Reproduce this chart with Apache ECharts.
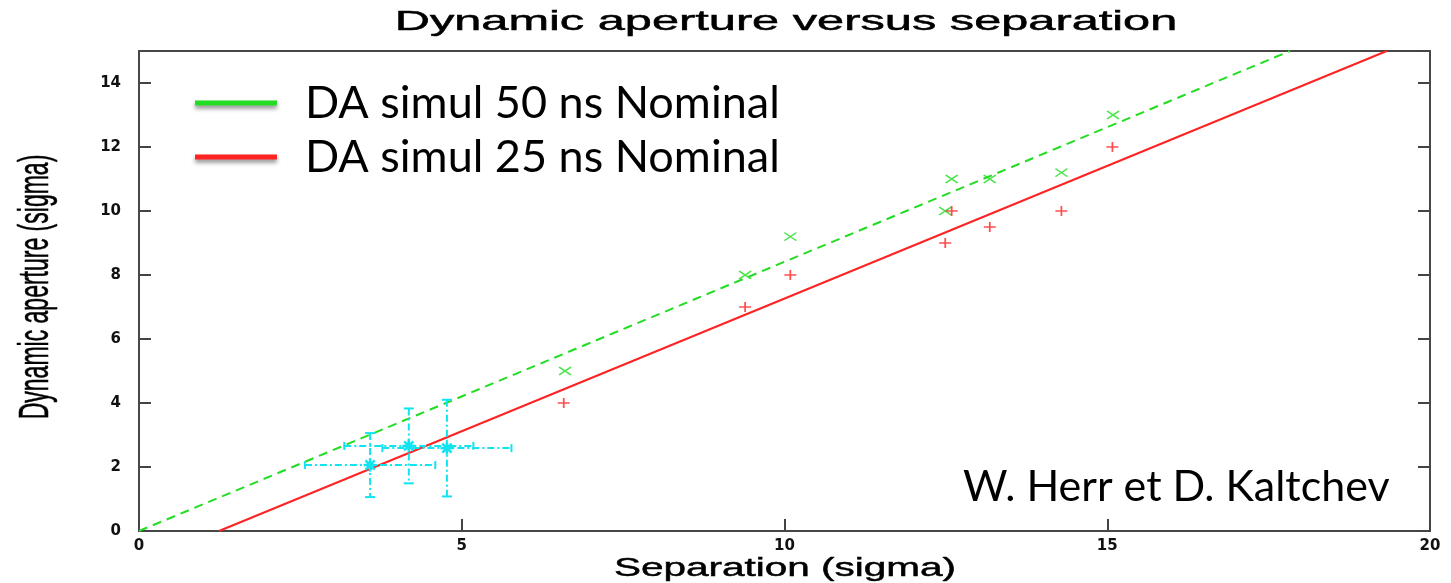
<!DOCTYPE html>
<html>
<head>
<meta charset="utf-8">
<script src="https://cdn.jsdelivr.net/npm/echarts@6/dist/echarts.min.js"></script>
<style>
  html, body { margin: 0; padding: 0; background: #fff; }
  #chart { width: 1451px; height: 583px; }
</style>
</head>
<body>
<div id="chart"></div>
<script>
// Axis ticks
const xTicks = [0, 5, 10, 15, 20];
const yTicks = [0, 2, 4, 6, 8, 10, 12, 14];

// Simulated dynamic aperture [separation, DA] (sigma)
const da50ns = [[6.6, 5], [9.39, 8], [10.09, 9.2], [12.49, 10], [12.59, 11], [13.18, 11], [14.29, 11.2], [15.09, 13]];
const da25ns = [[6.58, 4], [9.39, 7], [10.09, 8], [12.49, 9], [12.59, 10], [13.18, 9.5], [14.29, 10], [15.08, 12]];

// Linear fits through the simulations (end points)
const fit50ns = [[0, 0], [17.83, 15]];
const fit25ns = [[1.24, 0], [19.33, 15]];

// Measurements with error bars
const measSep = [3.58, 4.18, 4.77];
const measDA = [2.06, 2.66, 2.59];
const measSepErr = [1.01, 1.0, 1.0];
const measDAErr = [1.0, 1.17, 1.51];

const GREEN = '#22dd22';
const RED = '#ff2222';
const CYAN = '#11e4f0';
const NAME50 = 'DA simul 50 ns Nominal';
const NAME25 = 'DA simul 25 ns Nominal';

const measData = measSep.map((x, i) => [x, measDA[i], measSepErr[i], measDAErr[i]]);

function renderErrorBar(params, api) {
  const x = api.value(0), y = api.value(1), dx = api.value(2), dy = api.value(3);
  const c = api.coord([x, y]);
  const L = api.coord([x - dx, y]);
  const R = api.coord([x + dx, y]);
  const T = api.coord([x, y + dy]);
  const B = api.coord([x, y - dy]);
  const dash = { stroke: CYAN, lineWidth: 2, lineDash: [7, 3, 2, 3] };
  const solid = { stroke: CYAN, lineWidth: 2 };
  const cw = 5, ch = 4;
  const children = [
    { type: 'line', shape: { x1: L[0], y1: L[1], x2: R[0], y2: R[1] }, style: dash },
    { type: 'line', shape: { x1: T[0], y1: T[1], x2: B[0], y2: B[1] }, style: dash },
    { type: 'line', shape: { x1: L[0], y1: L[1] - ch, x2: L[0], y2: L[1] + ch }, style: solid },
    { type: 'line', shape: { x1: R[0], y1: R[1] - ch, x2: R[0], y2: R[1] + ch }, style: solid },
    { type: 'line', shape: { x1: T[0] - cw, y1: T[1], x2: T[0] + cw, y2: T[1] }, style: solid },
    { type: 'line', shape: { x1: B[0] - cw, y1: B[1], x2: B[0] + cw, y2: B[1] }, style: solid },
    { type: 'circle', shape: { cx: c[0], cy: c[1], r: 3.5 }, style: { fill: CYAN } }
  ];
  const r = 6.5;
  for (let k = 0; k < 4; k++) {
    const a = k * Math.PI / 4;
    children.push({
      type: 'line',
      shape: { x1: c[0] - r * Math.cos(a), y1: c[1] - r * Math.sin(a), x2: c[0] + r * Math.cos(a), y2: c[1] + r * Math.sin(a) },
      style: { stroke: CYAN, lineWidth: 2.5 }
    });
  }
  return { type: 'group', children };
}

const chart = echarts.init(document.getElementById('chart'));

const tickFmt = list => v => (list.includes(v) ? String(v) : '');

chart.setOption({
  animation: false,
  backgroundColor: '#ffffff',
  grid: {
    left: 139, right: 21, top: 51, bottom: 52,
    show: true, borderColor: '#474747', borderWidth: 2, backgroundColor: 'transparent'
  },
  legend: {
    orient: 'vertical',
    left: 195, top: 78, padding: 0,
    itemWidth: 82, itemHeight: 5, itemGap: 4,
    icon: 'rect',
    data: [
      { name: NAME50, itemStyle: { color: GREEN } },
      { name: NAME25, itemStyle: { color: RED } }
    ],
    itemStyle: { shadowBlur: 4, shadowColor: 'rgba(0,0,0,0.45)', shadowOffsetY: 3, borderWidth: 0 },
    textStyle: {
      fontFamily: 'Lato', fontSize: 45, color: '#000', lineHeight: 50,
      padding: [0, 0, 0, 23]
    },
    selectedMode: false
  },
  xAxis: {
    type: 'value', min: 0, max: 20, interval: 5,
    axisLine: { show: false },
    axisTick: { show: true, inside: true, length: 12, lineStyle: { color: '#444', width: 2 } },
    axisLabel: {
      formatter: tickFmt(xTicks), margin: 8,
      fontFamily: 'DejaVu Sans', fontWeight: 'bold', fontSize: 15, color: '#111',
      showMinLabel: true, showMaxLabel: true
    },
    splitLine: { show: false }
  },
  yAxis: [
    {
      type: 'value', min: 0, max: 15, interval: 2,
      axisLine: { show: false },
      axisTick: { show: true, inside: true, length: 12, lineStyle: { color: '#444', width: 2 } },
      axisLabel: {
        formatter: tickFmt(yTicks), margin: 18,
        fontFamily: 'DejaVu Sans', fontWeight: 'bold', fontSize: 15, color: '#111',
        showMaxLabel: false
      },
      splitLine: { show: false }
    },
    {
      type: 'value', min: 0, max: 15, interval: 2, position: 'right',
      axisLine: { show: false },
      axisTick: { show: true, inside: true, length: 12, lineStyle: { color: '#444', width: 2 } },
      axisLabel: { show: false },
      splitLine: { show: false }
    }
  ],
  graphic: [
    {
      type: 'text', x: 786, y: 22, scaleX: 1.74, silent: true,
      style: {
        text: 'Dynamic aperture versus separation',
        font: '28px "Liberation Sans", Arial, sans-serif',
        fill: '#000', stroke: '#000', lineWidth: 0.5,
        textAlign: 'center', textVerticalAlign: 'middle'
      }
    },
    {
      type: 'text', x: 785, y: 569, scaleX: 1.62, silent: true,
      style: {
        text: 'Separation (sigma)',
        font: '25px "Liberation Sans", Arial, sans-serif',
        fill: '#000', stroke: '#000', lineWidth: 0.45,
        textAlign: 'center', textVerticalAlign: 'middle'
      }
    },
    {
      type: 'text', x: 36, y: 287, rotation: Math.PI / 2, scaleY: 1.85, silent: true,
      style: {
        text: 'Dynamic aperture (sigma)',
        font: '23px "Liberation Sans", Arial, sans-serif',
        fill: '#000', stroke: '#000', lineWidth: 0.3,
        textAlign: 'center', textVerticalAlign: 'middle'
      }
    },
    {
      type: 'text', x: 963, y: 487, silent: true,
      style: {
        text: 'W. Herr et D. Kaltchev',
        font: '43px Lato, sans-serif',
        fill: '#000', textAlign: 'left', textVerticalAlign: 'middle'
      }
    }
  ],
  series: [
    {
      name: NAME50, type: 'line', data: fit50ns, showSymbol: false, symbol: 'none',
      lineStyle: { color: GREEN, width: 2, type: [9, 6] }, itemStyle: { color: GREEN },
      silent: true, z: 3
    },
    {
      name: NAME25, type: 'line', data: fit25ns, showSymbol: false, symbol: 'none',
      lineStyle: { color: RED, width: 2 }, itemStyle: { color: RED },
      silent: true, z: 3
    },
    {
      name: '50 ns points', type: 'scatter', data: da50ns,
      symbol: 'path://M0,0L12,8M12,0L0,8', symbolSize: [12, 8],
      itemStyle: { color: 'transparent', borderColor: GREEN, borderWidth: 1.6 },
      silent: true, z: 4
    },
    {
      name: '25 ns points', type: 'scatter', data: da25ns,
      symbol: 'path://M6,0L6,10M0,5L12,5', symbolSize: [12, 10],
      itemStyle: { color: 'transparent', borderColor: RED, borderWidth: 1.6 },
      silent: true, z: 4
    },
    {
      name: 'Measurements', type: 'custom', data: measData,
      encode: { x: 0, y: 1 },
      renderItem: renderErrorBar, silent: true, z: 5
    }
  ]
});
</script>
</body>
</html>
